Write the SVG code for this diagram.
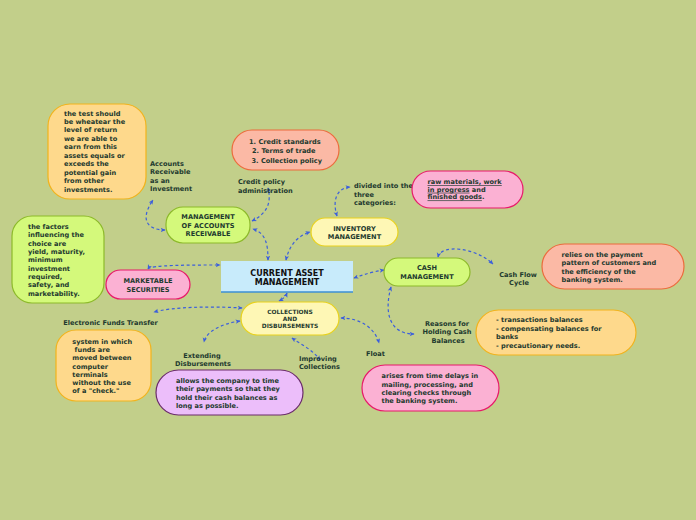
<svg xmlns="http://www.w3.org/2000/svg" width="696" height="520" viewBox="0 0 696 520">
<defs>
<marker id="ah" viewBox="0 0 8 8" refX="7" refY="4" markerWidth="5" markerHeight="5" orient="auto-start-reverse" markerUnits="userSpaceOnUse">
<path d="M0,0.5 L8,4 L0,7.5 L2,4 z" fill="#3b5fdc"/>
</marker>
<style>
.t{font-family:"DejaVu Sans",Verdana,sans-serif;font-weight:bold;font-size:6.6px;fill:#1e3a2f}
.c{text-anchor:middle}
.lime{fill:#d4f97b;stroke:#8cb92a;stroke-width:1.2}
.yel{fill:#fef7b5;stroke:#e9d21d;stroke-width:1.2}
.pink{fill:#fbb1d3;stroke:#e8196a;stroke-width:1.2}
.sal{fill:#fbb9a5;stroke:#ec6b3c;stroke-width:1.2}
.org{fill:#fed98c;stroke:#f2b31c;stroke-width:1.2}
.pur{fill:#ecbefa;stroke:#6a2b6b;stroke-width:1.2}
.cn path{fill:none;stroke:#3b5fdc;stroke-width:1.2;stroke-dasharray:3 2.6;marker-start:url(#ah);marker-end:url(#ah)}
.u{text-decoration:underline}
</style>
</defs>
<rect width="696" height="520" fill="#c2cf8a"/>

<g id="connectors" class="cn">
<path d="M268,260 C268,245 266,233 253,229"/>
<path d="M252,221 C266,214 272,204 268,188"/>
<path d="M165,230 C150,230 138,222 153,200"/>
<path d="M286,260 C289,246 297,236 310,232"/>
<path d="M337,216 C332,200 337,188 350,187"/>
<path d="M384,270 Q370,272 354,278"/>
<path d="M438,257 C441,244 475,247 493,264"/>
<path d="M391,287 C384,312 389,334 414,334"/>
<path d="M287,293 Q285,298 279,301"/>
<path d="M148,269 C150,265 190,265 220,265"/>
<path d="M242,308 C210,306 172,307 154,312"/>
<path d="M240,321 C220,324 206,332 204,342"/>
<path d="M292,338 C302,345 313,350 320,360"/>
<path d="M341,318 C360,318 375,328 379,343"/>
</g>

<g id="central">
<rect x="221" y="261" width="132" height="31" fill="#c8ebfb"/>
<line x1="221" y1="292" x2="353" y2="292" stroke="#3d8fd4" stroke-width="1.3"/>
<text class="t c" x="287" y="275.5" style="font-size:8px;fill:#111">CURRENT ASSET</text>
<text class="t c" x="287" y="284.5" style="font-size:8px;fill:#111">MANAGEMENT</text>
</g>

<g id="mar">
<rect class="lime" x="166" y="207" width="84" height="36" rx="17"/>
<text class="t c" x="208" y="219">MANAGEMENT</text>
<text class="t c" x="208" y="227.5">OF ACCOUNTS</text>
<text class="t c" x="208" y="236">RECEIVABLE</text>
</g>

<g id="inventory">
<rect class="yel" x="311" y="218" width="87" height="28" rx="14"/>
<text class="t c" x="354.5" y="230.7">INVENTORY</text>
<text class="t c" x="354.5" y="238.7">MANAGEMENT</text>
</g>

<g id="cash">
<rect class="lime" x="384" y="258" width="86" height="28" rx="14"/>
<text class="t c" x="427" y="269.7">CASH</text>
<text class="t c" x="427" y="278.5">MANAGEMENT</text>
</g>

<g id="collections">
<rect class="yel" x="241" y="302" width="98" height="33" rx="16.5"/>
<text class="t c" x="290" y="314" style="font-size:5.9px">COLLECTIONS</text>
<text class="t c" x="290" y="320.8" style="font-size:5.9px">AND</text>
<text class="t c" x="290" y="327.8" style="font-size:5.9px">DISBURSEMENTS</text>
</g>

<g id="marketable">
<rect class="pink" x="106" y="270" width="84" height="29" rx="14.5"/>
<text class="t c" x="148" y="282.5">MARKETABLE</text>
<text class="t c" x="148" y="291.5">SECURITIES</text>
</g>

<g id="test-box">
<rect class="org" x="48" y="104" width="98" height="95" rx="22"/>
<text class="t" x="64" y="115.5">the test should</text>
<text class="t" x="64" y="124">be wheatear the</text>
<text class="t" x="64" y="132.4">level of return</text>
<text class="t" x="64" y="140.8">we are able to</text>
<text class="t" x="64" y="149.3">earn from this</text>
<text class="t" x="64" y="157.7">assets equals or</text>
<text class="t" x="64" y="166.2">exceeds the</text>
<text class="t" x="64" y="174.6">potential gain</text>
<text class="t" x="64" y="183">from other</text>
<text class="t" x="64" y="191.5">investments.</text>
</g>

<g id="ar-investment">
<text class="t" x="150" y="165.5">Accounts</text>
<text class="t" x="150" y="174">Receivable</text>
<text class="t" x="150" y="182.5">as an</text>
<text class="t" x="150" y="191">Investment</text>
</g>

<g id="factors-box">
<rect class="lime" x="12" y="216" width="92" height="87" rx="20"/>
<text class="t" x="28" y="229">the factors</text>
<text class="t" x="28" y="237.4">influencing the</text>
<text class="t" x="28" y="245.7">choice are</text>
<text class="t" x="28" y="254">yield, maturity,</text>
<text class="t" x="28" y="262.3">minimum</text>
<text class="t" x="28" y="270.6">investment</text>
<text class="t" x="28" y="279">required,</text>
<text class="t" x="28" y="287.3">safety, and</text>
<text class="t" x="28" y="295.6">marketability.</text>
</g>

<g id="credit-box">
<rect class="sal" x="232" y="130" width="107" height="40" rx="20"/>
<text class="t" x="249" y="144">1. Credit standards</text>
<text class="t" x="252" y="153">2. Terms of trade</text>
<text class="t" x="251.5" y="162.5">3. Collection policy</text>
</g>

<g id="credit-policy">
<text class="t" x="238" y="184">Credit policy</text>
<text class="t" x="238" y="193">administration</text>
</g>

<g id="divided">
<text class="t" x="354" y="188.4">divided into the</text>
<text class="t" x="354" y="196.7">three</text>
<text class="t" x="354" y="204.9">categories:</text>
</g>

<g id="raw-box">
<rect class="pink" x="412" y="171" width="111" height="37" rx="18.5"/>
<text class="t" x="427.5" y="184"><tspan class="u">raw materials, work</tspan></text>
<text class="t" x="427.5" y="191.7"><tspan class="u">in progress</tspan> and</text>
<text class="t" x="427.5" y="199.4"><tspan class="u">finished goods</tspan>.</text>
</g>

<g id="cash-flow">
<text class="t c" x="518" y="276.7">Cash Flow</text>
<text class="t c" x="519" y="285.2">Cycle</text>
</g>

<g id="relies-box">
<rect class="sal" x="542" y="244" width="142" height="45" rx="22.5"/>
<text class="t" x="561.5" y="256.7">relies on the payment</text>
<text class="t" x="561.5" y="265.3">pattern of customers and</text>
<text class="t" x="561.5" y="274">the efficiency of the</text>
<text class="t" x="561.5" y="282.4">banking system.</text>
</g>

<g id="reasons">
<text class="t c" x="447" y="325.7">Reasons for</text>
<text class="t c" x="447" y="334.4">Holding Cash</text>
<text class="t c" x="448" y="342.7">Balances</text>
</g>

<g id="balances-box">
<rect class="org" x="476" y="310" width="160" height="45" rx="22.5"/>
<text class="t" x="496" y="321.7">- transactions balances</text>
<text class="t" x="496" y="330.5">- compensating balances for</text>
<text class="t" x="496" y="339">banks</text>
<text class="t" x="496" y="347.7">- precautionary needs.</text>
</g>

<g id="float">
<text class="t" x="366" y="355.7">Float</text>
</g>

<g id="arises-box">
<rect class="pink" x="362" y="365" width="137" height="46" rx="23"/>
<text class="t" x="381.5" y="378.4">arises from time delays in</text>
<text class="t" x="381.5" y="386.7">mailing, processing, and</text>
<text class="t" x="381.5" y="395">clearing checks through</text>
<text class="t" x="381.5" y="403.4">the banking system.</text>
</g>

<g id="improving">
<text class="t" x="299" y="360.7">Improving</text>
<text class="t" x="299" y="369">Collections</text>
</g>

<g id="extending">
<text class="t c" x="202" y="358">Extending</text>
<text class="t c" x="203" y="366">Disbursements</text>
</g>

<g id="allows-box">
<rect class="pur" x="156" y="370" width="147" height="45" rx="22.5"/>
<text class="t" x="176" y="383">allows the company to time</text>
<text class="t" x="176" y="391.3">their payments so that they</text>
<text class="t" x="176" y="399.7">hold their cash balances as</text>
<text class="t" x="176" y="408">long as possible.</text>
</g>

<g id="eft">
<text class="t" x="63.3" y="325">Electronic Funds Transfer</text>
</g>

<g id="system-box">
<rect class="org" x="56" y="330" width="95" height="71" rx="20"/>
<text class="t" x="72.3" y="344">system in which</text>
<text class="t" x="72.3" y="352" xml:space="preserve"> funds are</text>
<text class="t" x="72.3" y="360">moved between</text>
<text class="t" x="72.3" y="368.7">computer</text>
<text class="t" x="72.3" y="377">terminals</text>
<text class="t" x="72.3" y="385.3">without the use</text>
<text class="t" x="72.3" y="393.4">of a "check."</text>
</g>
</svg>
